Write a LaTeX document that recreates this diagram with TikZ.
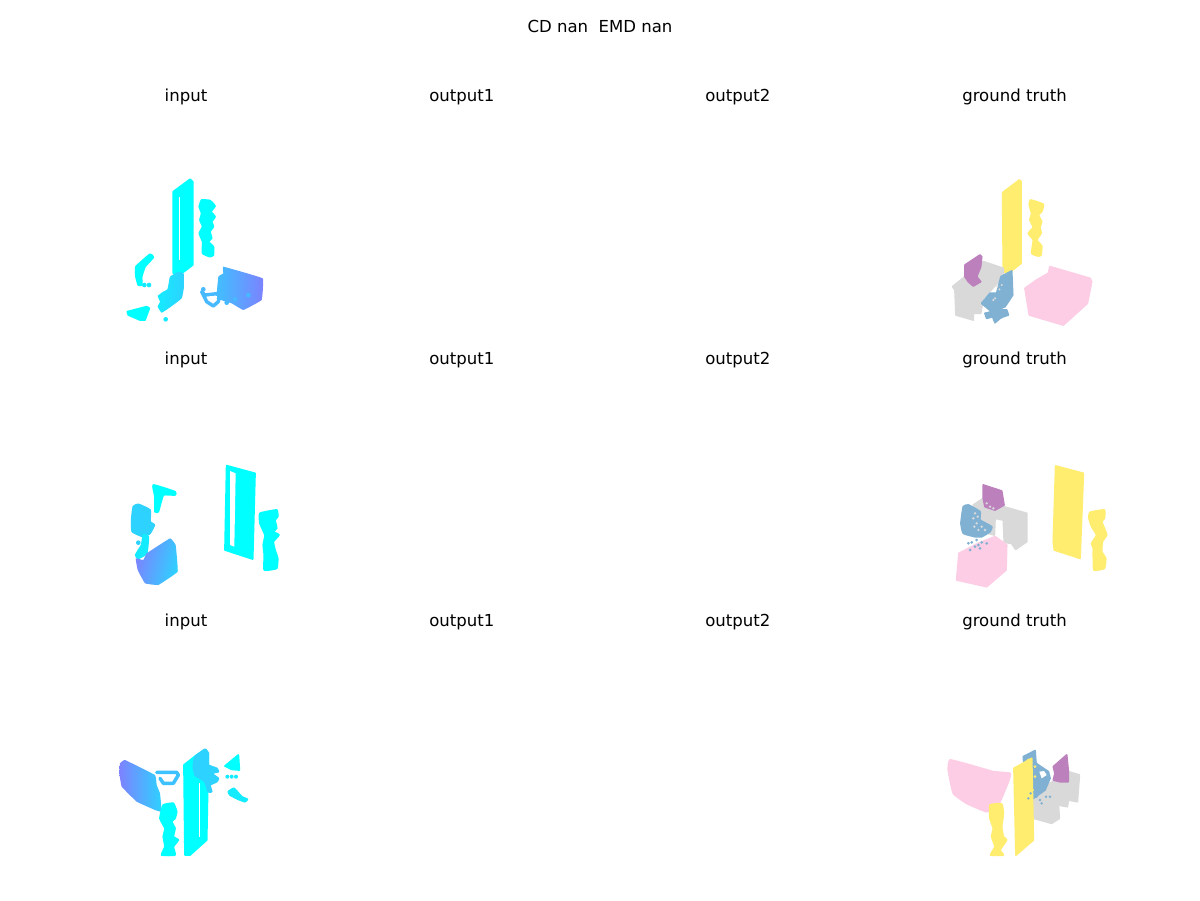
\documentclass[tikz,border=0pt]{standalone}
\usepackage{fontspec}
\setmainfont{DejaVu Sans}
\definecolor{gyel}{HTML}{FFED6F}
\definecolor{gpnk}{HTML}{FCCDE5}
\definecolor{ggry}{HTML}{D9D9D9}
\definecolor{gblu}{HTML}{80B1D3}
\definecolor{gpur}{HTML}{BC80BD}
\definecolor{cA}{RGB}{0,255,255}
\definecolor{cB}{RGB}{20,235,255}
\definecolor{cC}{RGB}{45,210,255}
\definecolor{cD}{RGB}{70,185,255}
\definecolor{cE}{RGB}{125,130,255}
\newcommand\blob[2]{\filldraw[blobline,draw=#1,fill=#1] plot[smooth cycle,tension=.22] coordinates {#2};}
\newcommand\slab[2]{\filldraw[blobline,draw=#1,fill=#1] plot coordinates {#2} -- cycle;}
\newcommand\spots[3]{\foreach \p in {#2} \fill[#1] \p circle (#3);}
\tikzset{
 blobline/.style={line join=round,line width=1.3pt},
 ttl/.style={font=\fontsize{12.4}{15}\selectfont,text=black,inner sep=0pt,anchor=base},
 wire/.style={line join=round,line cap=round,line width=2.6pt},
 zoomed/.style={shift={#1},scale=1/3}
}
\begin{document}
\begin{tikzpicture}[x=0.75pt,y=-0.75pt]
\useasboundingbox (0,0) rectangle (1200,900);
\fill[white] (0,0) rectangle (1200,900);
\node[ttl] (title) at (600,32) {CD nan\ \ EMD nan};
\foreach \n/\y in {a/101,b/364,c/626}{
 \node[ttl] (in\n) at (186,\y) {input};
 \node[ttl] (oa\n) at (461.8,\y) {output1};
 \node[ttl] (ob\n) at (737.8,\y) {output2};
 \node[ttl] (gt\n) at (1014.5,\y) {ground truth};
}
% ---- row 1 input
\begin{scope}[zoomed={(110,170)}]
\slab{cA}{(190,65)(240,28)(248,35)(248,285)(215,310)(190,310)}
\draw[white,line width=.5pt] (207,80)--(207,270);
\blob{cA}{(275,90)(300,92)(315,108)(303,125)(315,140)(305,155)(310,170)(300,185)(305,205)(295,215)(310,230)(310,255)(300,260)(278,250)(278,215)(268,190)(278,170)(270,150)(275,130)(268,110)}
\shade[left color=cB,right color=cC] plot[smooth cycle,tension=.22] coordinates {(180,320)(205,305)(222,312)(222,350)(215,385)(180,412)(155,428)(143,410)(150,395)(143,378)(158,366)(172,358)(176,340)};
\slab{cA}{(52,425)(110,410)(118,415)(105,450)(90,450)(55,435)}
\blob{cA}{(78,290)(120,253)(130,262)(105,290)(95,320)(95,345)(85,345)(78,320)}
\spots{cB}{(103,345),(117,345),(167,448)}{7}
\shade[left color=cD!75!cC,right color=cE] plot[smooth cycle,tension=.12] coordinates {(340,290)(458,325)(455,390)(400,420)(365,400)(320,385)(325,320)(340,310)};
\draw[wire,cD] (275,365)--(285,375)--(330,370)--(325,395)--(310,408)--(290,395)--cycle;
\draw[white,line width=1.6pt] (320,382)--(300,382);
\spots{cD}{(280,358),(350,398),(375,388),(415,375),(335,370)}{7}
\end{scope}
% ---- row 1 truth
\begin{scope}[zoomed={(940,170)}]
\slab{gyel}{(188,68)(238,30)(243,35)(243,280)(205,310)(190,305)}
\blob{gyel}{(272,90)(310,103)(305,125)(295,135)(305,155)(300,170)(303,190)(290,210)(305,228)(303,255)(295,258)(275,250)(280,210)(265,190)(280,172)(270,150)(275,130)(268,105)}
\slab{ggry}{(38,350)(130,275)(190,295)(190,320)(130,385)(122,430)(100,430)(100,450)(48,435)(45,360)}
\slab{gpur}{(75,285)(120,255)(125,260)(122,290)(110,320)(122,335)(100,348)(85,335)(75,320)}
\slab{gblu}{(183,320)(215,303)(218,375)(195,410)(170,420)(200,420)(205,435)(190,440)(180,445)(165,458)(158,440)(140,445)(135,430)(155,425)(125,400)(150,370)(170,370)}
\spots{ggry}{(185,345),(178,358),(165,385),(172,350),(160,390)}{3.5}
\slab{gpnk}{(330,290)(450,325)(455,335)(442,400)(370,465)(268,435)(255,355)(290,330)(325,310)}
\end{scope}
% ---- row 2 input
\begin{scope}[zoomed={(115,455)}]
\slab{cA}{(335,32)(420,55)(413,312)(330,285)}
\fill[white] (345,48)--(362,55)--(358,275)--(345,270)--cycle;
\blob{cA}{(435,175)(485,165)(488,185)(480,195)(485,220)(475,230)(492,240)(475,260)(480,285)(488,310)(485,340)(448,345)(448,300)(445,270)(450,240)(435,205)}
\blob{cA}{(115,90)(180,110)(180,120)(145,120)(130,170)(120,170)(120,125)}
\blob{cC}{(55,155)(70,148)(105,165)(105,200)(118,210)(105,235)(85,245)(52,230)(50,195)}
\blob{cB}{(85,240)(100,245)(95,295)(70,310)(62,300)(80,270)}
\spots{cC}{(70,263)}{7}
\shade[left color=cE,right color=cC,shading angle=75] plot[smooth cycle,tension=.12] coordinates {(165,250)(182,270)(188,350)(130,390)(90,385)(68,345)(62,310)(85,315)(95,295)};
\end{scope}
% ---- row 2 truth
\begin{scope}[zoomed={(945,455)}]
\slab{gyel}{(332,33)(415,55)(405,310)(328,285)(325,260)}
\blob{gyel}{(435,172)(478,165)(478,190)(470,200)(480,225)(485,240)(472,260)(470,290)(482,310)(478,340)(447,345)(445,300)(445,280)(440,265)(455,240)(440,215)(432,190)}
\slab{ggry}{(85,150)(115,130)(175,155)(245,175)(245,260)(212,283)(200,265)(178,262)(175,195)(150,190)(148,240)(90,225)}
\slab{gpur}{(115,90)(170,108)(177,150)(150,165)(120,155)(115,130)}
\blob{gblu}{(55,155)(70,150)(105,170)(105,195)(140,215)(135,230)(110,245)(90,245)(55,235)(48,205)}
\spots{ggry}{(90,175),(98,185),(85,190),(95,205),(88,215),(110,215),(120,225),(100,225)}{4}
\slab{gpnk}{(42,295)(100,265)(150,245)(185,270)(183,345)(125,395)(35,375)}
\spots{gblu}{(70,265),(80,262),(95,255),(100,270),(110,262),(90,275),(75,285),(125,265),(105,280)}{4.5}
\spots{ggry}{(125,145),(135,155),(145,160)}{4}
\end{scope}
% ---- row 3 input
\begin{scope}[zoomed={(110,740)}]
\shade[left color=cE,right color=cC] plot[smooth cycle,tension=.12] coordinates {(30,70)(45,60)(135,105)(140,135)(150,160)(155,215)(135,210)(80,185)(35,140)(28,100)};
\draw[wire,cD!70!cC] (140,97)--(200,97)--(205,105)--(190,130)--(160,130)--(150,115);
\blob{cA}{(160,195)(190,190)(200,215)(195,235)(185,245)(195,265)(190,290)(205,300)(190,320)(195,345)(155,345)(165,320)(160,290)(165,265)(150,235)}
\slab{cA}{(222,75)(260,45)(285,30)(295,40)(290,300)(240,345)(225,345)}
\blob{cC}{(255,50)(285,28)(295,40)(295,75)(320,85)(325,95)(305,100)(325,115)(320,125)(300,135)(305,155)(295,155)(285,125)(270,115)(255,105)(250,80)}
\draw[white,line width=.5pt] (268,130)--(268,290);
\slab{cA}{(345,78)(385,45)(388,90)(365,88)}
\spots{cB}{(352,110),(365,110),(378,110)}{6}
\blob{cB}{(355,155)(372,145)(395,170)(412,178)(405,185)(385,178)(360,165)}
\end{scope}
% ---- row 3 truth
\begin{scope}[zoomed={(940,740)}]
\blob{gpnk}{(30,60)(90,75)(160,95)(210,100)(205,125)(175,195)(140,215)(80,190)(40,160)(25,90)}
\blob{gyel}{(150,195)(185,192)(190,220)(185,260)(190,290)(200,300)(180,330)(190,345)(152,345)(165,320)(155,290)(160,265)(150,235)}
\slab{ggry}{(280,175)(330,130)(385,95)(418,105)(412,185)(385,180)(382,200)(355,195)(358,235)(335,250)(282,235)}
\slab{gblu}{(250,50)(285,32)(288,70)(325,95)(330,115)(315,150)(280,175)(262,160)(255,110)}
\fill[white] (298,95)--(312,93)--(320,105)--(305,115)--cycle;
\slab{gpur}{(340,80)(380,45)(385,95)(385,125)(360,125)(340,120)(345,100)}
\slab{gyel}{(222,85)(275,55)(280,300)(228,345)}
\spots{gyel}{(265,60),(272,72),(262,85),(275,95),(265,108),(272,122),(262,135),(278,150),(268,165),(285,80),(285,110)}{4.5}
\spots{gblu}{(265,175),(272,160),(300,180),(305,190),(318,170),(330,170),(290,170)}{4}
\end{scope}
\end{tikzpicture}
\end{document}
